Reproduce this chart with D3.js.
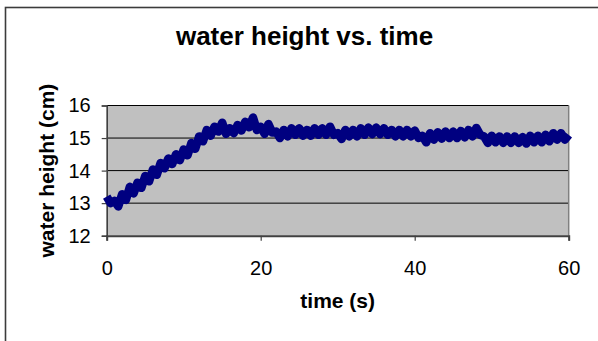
<!DOCTYPE html>
<html>
<head>
<meta charset="utf-8">
<script src="https://cdn.jsdelivr.net/npm/d3@7"></script>
<style>
  html, body { margin: 0; padding: 0; background: #fff; }
  svg { display: block; font-family: "Liberation Sans", Arial, sans-serif; }
</style>
</head>
<body>
<div id="chart"></div>
<script>
// ---- data: samples every 0.5 s (the trace jitters up and down) ----
const times = [
  0,0.5,1,1.5,2,2.5,3,3.5,4,4.5,5,5.5,6,6.5,7,7.5,8,8.5,9,9.5,
  10,10.5,11,11.5,12,12.5,13,13.5,14,14.5,15,15.5,16,16.5,17,17.5,18,18.5,19,19.5,
  20,20.5,21,21.5,22,22.5,23,23.5,24,24.5,25,25.5,26,26.5,27,27.5,28,28.5,29,29.5,
  30,30.5,31,31.5,32,32.5,33,33.5,34,34.5,35,35.5,36,36.5,37,37.5,38,38.5,39,39.5,
  40,40.5,41,41.5,42,42.5,43,43.5,44,44.5,45,45.5,46,46.5,47,47.5,48,48.5,49,49.5,
  50,50.5,51,51.5,52,52.5,53,53.5,54,54.5,55,55.5,56,56.5,57,57.5,58,58.5,59,59.5,
  60];
const heights = [
  13.2,13.0,13.07,12.9,13.27,13.1,13.5,13.3,13.63,13.47,
  13.83,13.67,14.03,13.87,14.23,14.07,14.37,14.2,14.5,14.32,
  14.65,14.47,14.85,14.67,15.05,14.9,15.25,15.07,15.35,15.2,
  15.47,15.13,15.3,15.15,15.4,15.23,15.5,15.33,15.63,15.25,
  15.35,15.13,15.43,15.17,15.2,15.0,15.25,15.05,15.3,15.1,
  15.3,15.07,15.25,15.07,15.3,15.1,15.3,15.1,15.35,15.1,
  15.15,14.97,15.25,15.05,15.25,15.05,15.3,15.1,15.32,15.12,
  15.32,15.12,15.3,15.1,15.25,15.05,15.25,15.05,15.25,15.05,
  15.23,15.0,15.07,14.87,15.15,14.95,15.18,14.98,15.2,15.0,
  15.2,15.0,15.22,15.02,15.25,15.05,15.31,15.1,15.05,14.85,
  15.07,14.87,15.05,14.85,15.05,14.85,15.05,14.85,15.03,14.83,
  15.07,14.87,15.07,14.87,15.1,14.9,15.15,14.95,15.15,14.95,
  15.1];
const xTicks = [0, 20, 40, 60];
const yTicks = [12, 13, 14, 15, 16];

const chartTitle = "water height vs. time";
const xTitle = "time (s)";
const yTitle = "water height (cm)";

// ---- layout ----
const W = 598, H = 341;
const plot = {left: 106.7, right: 568.7, top: 105.5, bottom: 235.7};

const svg = d3.select("#chart").append("svg")
  .attr("width", W).attr("height", H);

// outer chart frame (runs off the right and bottom edge)
svg.append("rect")
  .attr("x", 5.5).attr("y", 7.5)
  .attr("width", 700).attr("height", 500)
  .attr("fill", "#fff")
  .attr("stroke", "#3c3c3c").attr("stroke-width", 1.6);

const x = d3.scaleLinear().domain([0, 60]).range([plot.left, plot.right]);
const y = d3.scaleLinear().domain([12, 16]).range([plot.bottom, plot.top]);

// plot background
svg.append("rect")
  .attr("x", plot.left).attr("y", plot.top)
  .attr("width", plot.right - plot.left).attr("height", plot.bottom - plot.top)
  .attr("fill", "#c0c0c0");

// gridlines
svg.append("g").selectAll("line")
  .data(yTicks.filter(d => d > 12))
  .join("line")
  .attr("x1", plot.left).attr("x2", plot.right)
  .attr("y1", d => y(d)).attr("y2", d => y(d))
  .attr("stroke", "#000").attr("stroke-width", 1);

// right edge of plot area
svg.append("line")
  .attr("x1", plot.right).attr("x2", plot.right)
  .attr("y1", plot.top).attr("y2", plot.bottom)
  .attr("stroke", "#808080").attr("stroke-width", 1.5);

// axes
const yAxis = svg.append("g")
  .attr("transform", `translate(${plot.left},0)`)
  .call(d3.axisLeft(y).tickValues(yTicks).tickSize(5).tickPadding(11).tickFormat(d3.format("d")));
const xAxis = svg.append("g")
  .attr("transform", `translate(0,${plot.bottom})`)
  .call(d3.axisBottom(x).tickValues(xTicks).tickSize(5).tickPadding(20).tickFormat(d3.format("d")));

[yAxis, xAxis].forEach(g => {
  g.select(".domain").attr("stroke", "#404040").attr("stroke-width", 1.6);
  g.selectAll(".tick line").attr("stroke", "#404040").attr("stroke-width", 1.2);
  g.selectAll(".tick text")
    .attr("fill", "#000")
    .style("font-family", "'Liberation Sans', Arial, sans-serif")
    .style("font-size", "20px");
});
xAxis.select(".domain").attr("stroke-width", 2);

// the series
const pts = times.map((t, i) => [t, heights[i]]);
svg.append("path")
  .datum(pts)
  .attr("fill", "none")
  .attr("stroke", "#000080")
  .attr("stroke-width", 8.5)
  .attr("stroke-linejoin", "round")
  .attr("d", d3.line().x(d => x(d[0])).y(d => y(d[1])));

// titles
svg.append("text")
  .attr("x", 304.5).attr("y", 45)
  .attr("text-anchor", "middle")
  .style("font-size", "26px").style("font-weight", "bold")
  .text(chartTitle);

svg.append("text")
  .attr("x", (plot.left + plot.right) / 2).attr("y", 308)
  .attr("text-anchor", "middle")
  .style("font-size", "21px").style("font-weight", "bold")
  .text(xTitle);

svg.append("text")
  .attr("transform", `translate(54,${(plot.top + plot.bottom) / 2}) rotate(-90)`)
  .attr("text-anchor", "middle")
  .style("font-size", "21px").style("font-weight", "bold")
  .text(yTitle);
</script>
</body>
</html>
